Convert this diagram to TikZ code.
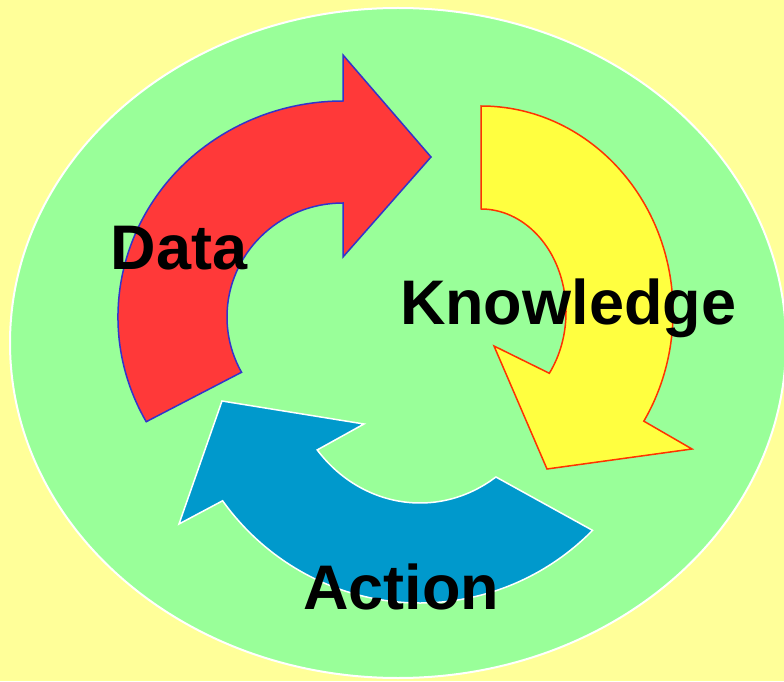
\documentclass[tikz,border=0pt]{standalone}
\usepackage{fontspec}
\setmainfont{Liberation Sans}
\usetikzlibrary{calc}
\definecolor{bgyellow}{HTML}{FFFF99}
\definecolor{ellgreen}{HTML}{99FF99}
\definecolor{redfill}{HTML}{FF3939}
\definecolor{redline}{HTML}{3333CC}
\definecolor{yelfill}{HTML}{FFFF40}
\definecolor{yelline}{HTML}{FF3300}
\definecolor{bluefill}{HTML}{0099CC}
\tikzset{
  cyclearrow/.style={line width=1.5pt, line join=miter},
  lbl/.style={font=\fontsize{63}{75}\selectfont\bfseries, inner sep=0pt, anchor=base, text=black},
}
\begin{document}
\begin{tikzpicture}[x=1pt,y=1pt]
\useasboundingbox (0,0) rectangle (784,681);
\fill[bgyellow] (0,0) rectangle (784,681);
\draw[white, line width=2pt, fill=ellgreen] (398,338) ellipse [x radius=388, y radius=335];
% red arrow (Data)
\coordinate (rc) at (343,364);
\draw[cyclearrow, fill=redfill, draw=redline]
  ($(rc)+(209:225 and 216)$) arc[start angle=209, end angle=90, x radius=225, y radius=216]
  -- (343,626) -- (431,524) -- (343,424)
  -- ($(rc)+(90:116 and 114)$) arc[start angle=90, end angle=209, x radius=116, y radius=114]
  -- cycle;
% yellow arrow (Knowledge)
\coordinate (yc) at (481,369);
\draw[cyclearrow, fill=yelfill, draw=yelline]
  ($(yc)+(90:192 and 206)$) arc[start angle=90, end angle=-32, x radius=192, y radius=206]
  -- (692,232) -- (547,212) -- (494,335)
  -- ($(yc)+(-36.5:85 and 103)$) arc[start angle=-36.5, end angle=90, x radius=85, y radius=103]
  -- cycle;
% blue arrow (Action)
\coordinate (bc) at (420,326);
\draw[cyclearrow, fill=bluefill, draw=white]
  ($(bc)+(-45:244 and 248)$) arc[start angle=-45, end angle=-144, x radius=244, y radius=248]
  -- (179,157) -- (222,280) -- (364,257)
  -- ($(bc)+(-140.1:134 and 148)$) arc[start angle=-140.1, end angle=-55.5, x radius=134, y radius=148]
  -- cycle;
\node[lbl] (data) at (179,411) {Data};
\node[lbl] (know) at (568,356) {Knowledge};
\node[lbl] (act) at (401,72) {Action};
\end{tikzpicture}
\end{document}
